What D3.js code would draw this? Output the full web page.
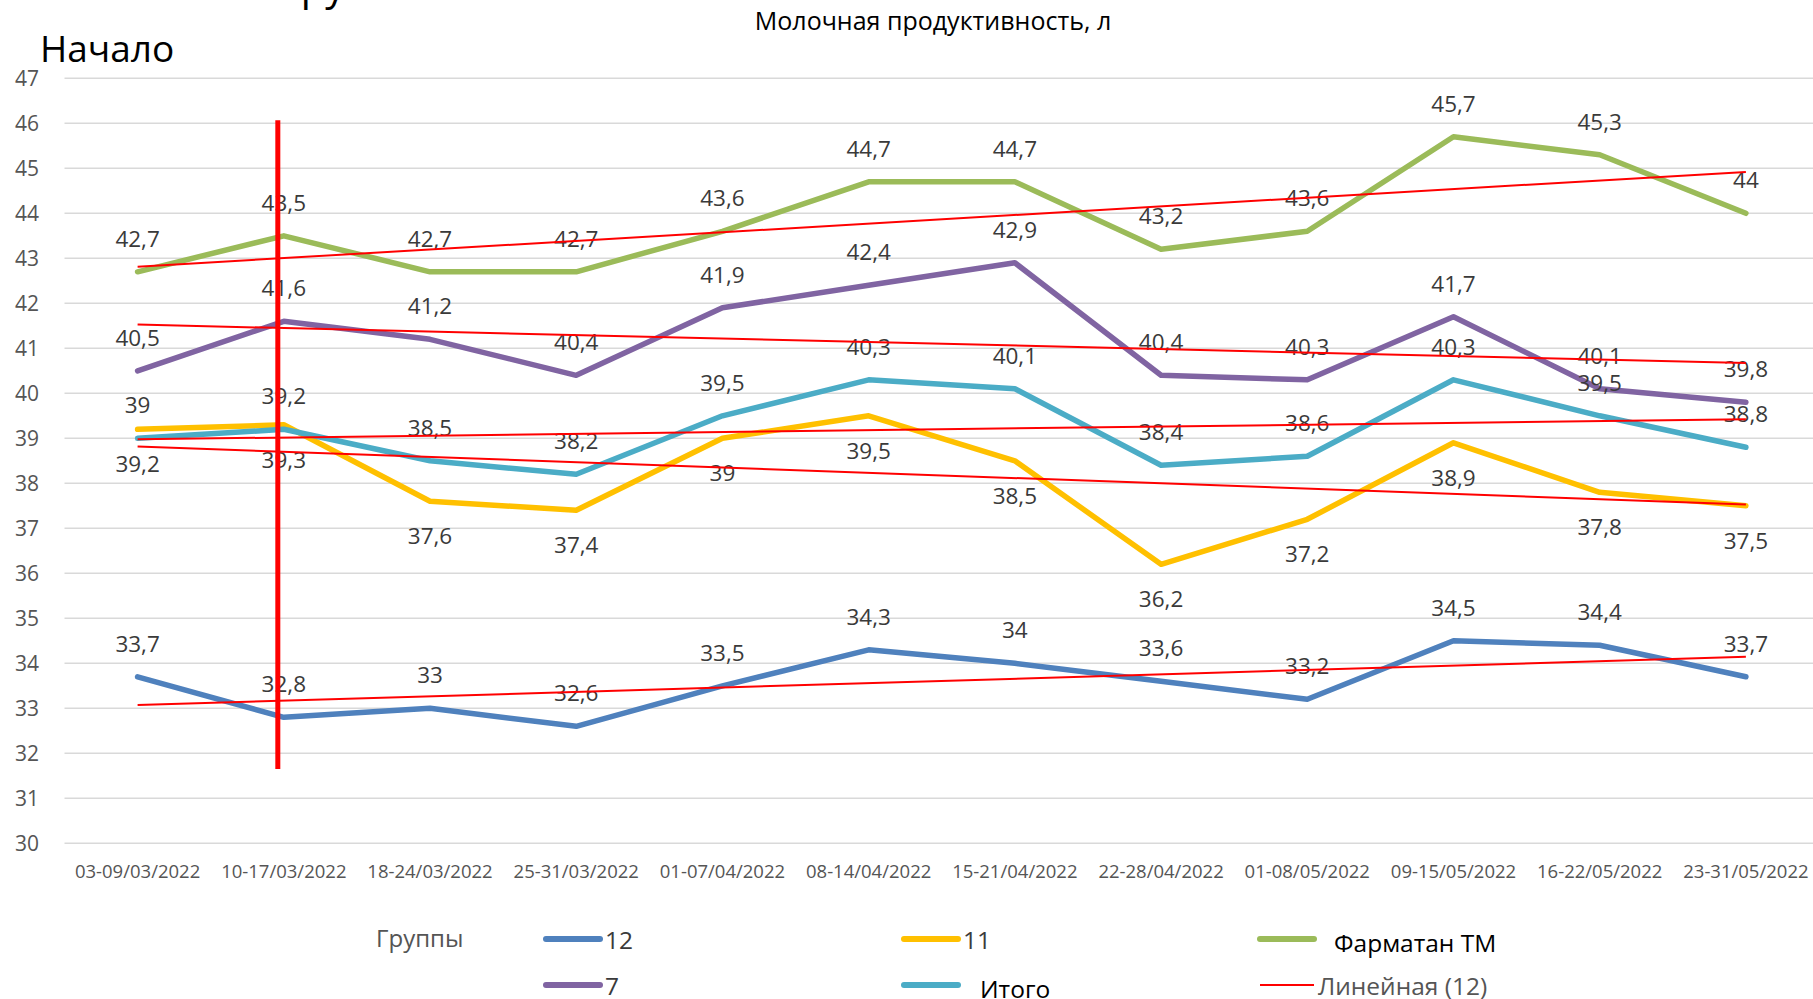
<!DOCTYPE html>
<html>
<head>
<meta charset="utf-8">
<script src="https://cdn.jsdelivr.net/npm/d3@7"></script>
<style>
    html, body { margin: 0; padding: 0; background: #fff; }
    svg { display: block; font-family: "Open Sans", "Noto Sans", sans-serif; }
</style>
</head>
<body>
<div class="panel"></div>
<script>

// Data ////////////////////////////////////

const categories = [
    "03-09/03/2022", "10-17/03/2022", "18-24/03/2022", "25-31/03/2022",
    "01-07/04/2022", "08-14/04/2022", "15-21/04/2022", "22-28/04/2022",
    "01-08/05/2022", "09-15/05/2022", "16-22/05/2022", "23-31/05/2022"
];

const group12 = [33.7, 32.8, 33, 32.6, 33.5, 34.3, 34, 33.6, 33.2, 34.5, 34.4, 33.7];
const group11 = [39.2, 39.3, 37.6, 37.4, 39, 39.5, 38.5, 36.2, 37.2, 38.9, 37.8, 37.5];
const groupFarm = [42.7, 43.5, 42.7, 42.7, 43.6, 44.7, 44.7, 43.2, 43.6, 45.7, 45.3, 44];
const group7 = [40.5, 41.6, 41.2, 40.4, 41.9, 42.4, 42.9, 40.4, 40.3, 41.7, 40.1, 39.8];
const groupTotal = [39, 39.2, 38.5, 38.2, 39.5, 40.3, 40.1, 38.4, 38.6, 40.3, 39.5, 38.8];

const yTicks = [30, 31, 32, 33, 34, 35, 36, 37, 38, 39, 40, 41, 42, 43, 44, 45, 46, 47];

const startCategory = "10-17/03/2022";
const startRange = [46.07, 31.65];

// Setup ///////////////////////////////////

const dim = { width: 1813, height: 999 };

const colors = {
    blue: "#4F81BD",
    yellow: "#FFC000",
    green: "#9BBB59",
    purple: "#8064A2",
    teal: "#4BACC6",
    red: "#FF0000",
    grid: "#D9D9D9",
    label: "#3A3A3A",
    axis: "#555555"
};

const series = [
    { name: "12", values: group12, color: colors.blue, below: false },
    { name: "11", values: group11, color: colors.yellow, below: true },
    { name: "Фарматан ТМ", values: groupFarm, color: colors.green, below: false },
    { name: "7", values: group7, color: colors.purple, below: false },
    { name: "Итого", values: groupTotal, color: colors.teal, below: false }
];

const fmt = d => String(d).replace(".", ",");

const svg = d3.select(".panel").append("svg")
    .attr("width", dim.width)
    .attr("height", dim.height)
    .attr("viewBox", [0, 0, dim.width, dim.height]);

svg.append("rect")
    .attr("width", dim.width)
    .attr("height", dim.height)
    .attr("fill", "#fff");

const x = d3.scaleBand()
    .domain(categories)
    .range([64.5, 1819])
    .padding(0);

const cx = d => x(d) + x.bandwidth() / 2;

const y = d3.scaleLinear()
    .domain([30, 47])
    .range([843.3, 78.3]);

// Titles

svg.append("text")
    .attr("x", 280)
    .attr("y", 0)
    .attr("font-size", 40)
    .attr("fill", "#000")
    .text("Группы");

svg.append("text")
    .attr("x", 933)
    .attr("y", 30)
    .attr("text-anchor", "middle")
    .attr("font-size", 25)
    .attr("fill", "#000")
    .text("Молочная продуктивность, л");

svg.append("text")
    .attr("x", 40)
    .attr("y", 62)
    .attr("font-size", 37)
    .attr("fill", "#000")
    .text("Начало");

// Grid and axes

svg.append("g")
    .attr("class", "grid")
    .selectAll("line")
    .data(yTicks)
    .join("line")
    .attr("x1", x.range()[0])
    .attr("x2", x.range()[1])
    .attr("y1", d => y(d))
    .attr("y2", d => y(d))
    .attr("stroke", colors.grid)
    .attr("stroke-width", 1.5);

svg.append("g")
    .attr("class", "y-axis")
    .selectAll("text")
    .data(yTicks)
    .join("text")
    .attr("x", 39)
    .attr("y", d => y(d))
    .attr("text-anchor", "end")
    .attr("dominant-baseline", "central")
    .attr("font-size", 21)
    .attr("fill", colors.axis)
    .text(d => d);

svg.append("g")
    .attr("class", "x-axis")
    .selectAll("text")
    .data(categories)
    .join("text")
    .attr("x", d => cx(d))
    .attr("y", 878)
    .attr("text-anchor", "middle")
    .attr("font-size", 18.5)
    .attr("fill", colors.axis)
    .text(d => d);

// Series lines

const line = d3.line()
    .x((d, i) => cx(categories[i]))
    .y(d => y(d));

svg.append("g")
    .attr("class", "series")
    .selectAll("path")
    .data(series)
    .join("path")
    .attr("d", d => line(d.values))
    .attr("fill", "none")
    .attr("stroke", d => d.color)
    .attr("stroke-width", 5.5)
    .attr("stroke-linejoin", "round")
    .attr("stroke-linecap", "round");

// Data labels

series.forEach(s => {
    svg.append("g")
        .attr("class", "labels")
        .selectAll("text")
        .data(s.values)
        .join("text")
        .attr("x", (d, i) => cx(categories[i]))
        .attr("y", d => s.below ? y(d) + 43 : y(d) - 25)
        .attr("text-anchor", "middle")
        .attr("font-size", 22.5)
        .attr("fill", colors.label)
        .text(d => fmt(d));
});

// Linear trends

function trend(values) {
    const xs = values.map((d, i) => i + 1);
    const mx = d3.mean(xs), my = d3.mean(values);
    const slope = d3.sum(xs, (d, i) => (d - mx) * (values[i] - my)) / d3.sum(xs, d => (d - mx) ** 2);
    const icpt = my - slope * mx;
    return [icpt + slope * xs[0], icpt + slope * xs[xs.length - 1]];
}

svg.append("g")
    .attr("class", "trends")
    .selectAll("line")
    .data(series)
    .join("line")
    .attr("x1", cx(categories[0]))
    .attr("x2", cx(categories[categories.length - 1]))
    .attr("y1", d => y(trend(d.values)[0]))
    .attr("y2", d => y(trend(d.values)[1]))
    .attr("stroke", colors.red)
    .attr("stroke-width", 2);

// Start marker

svg.append("line")
    .attr("x1", cx(startCategory) - 6)
    .attr("x2", cx(startCategory) - 6)
    .attr("y1", y(startRange[0]))
    .attr("y2", y(startRange[1]))
    .attr("stroke", colors.red)
    .attr("stroke-width", 5);

// Legend //////////////////////////////////

svg.append("text")
    .attr("x", 376)
    .attr("y", 937)
    .attr("dominant-baseline", "central")
    .attr("font-size", 24)
    .attr("fill", colors.axis)
    .text("Группы");

const legendItems = [
    { name: "12", color: colors.blue, w: 6, col: 0, row: 0, gap: 5, fill: colors.label },
    { name: "11", color: colors.yellow, w: 6, col: 1, row: 0, gap: 5, fill: colors.label },
    { name: "Фарматан ТМ", color: colors.green, w: 6, col: 2, row: 0, gap: 20, fill: "#000" },
    { name: "7", color: colors.purple, w: 6, col: 0, row: 1, gap: 5, fill: colors.label },
    { name: "Итого", color: colors.teal, w: 6, col: 1, row: 1, gap: 22, fill: "#000" },
    { name: "Линейная (12)", color: colors.red, w: 2, col: 2, row: 1, gap: 4, fill: colors.axis }
];

const legendCols = [546, 904, 1260];
const legendRows = [939, 985];
const swatch = 54;

const legend = svg.append("g")
    .attr("class", "legend")
    .selectAll("g")
    .data(legendItems)
    .join("g")
    .attr("transform", d => `translate(${ legendCols[d.col] }, ${ legendRows[d.row] })`);

legend.append("line")
    .attr("x1", 0)
    .attr("x2", swatch)
    .attr("stroke", d => d.color)
    .attr("stroke-width", d => d.w)
    .attr("stroke-linecap", d => d.w > 2 ? "round" : "butt");

legend.append("text")
    .attr("x", d => swatch + d.gap)
    .attr("y", d => d.gap > 10 ? 3 : 0)
    .attr("dominant-baseline", "central")
    .attr("font-size", 24.5)
    .attr("fill", d => d.fill)
    .text(d => d.name);

</script>
</body>
</html>
